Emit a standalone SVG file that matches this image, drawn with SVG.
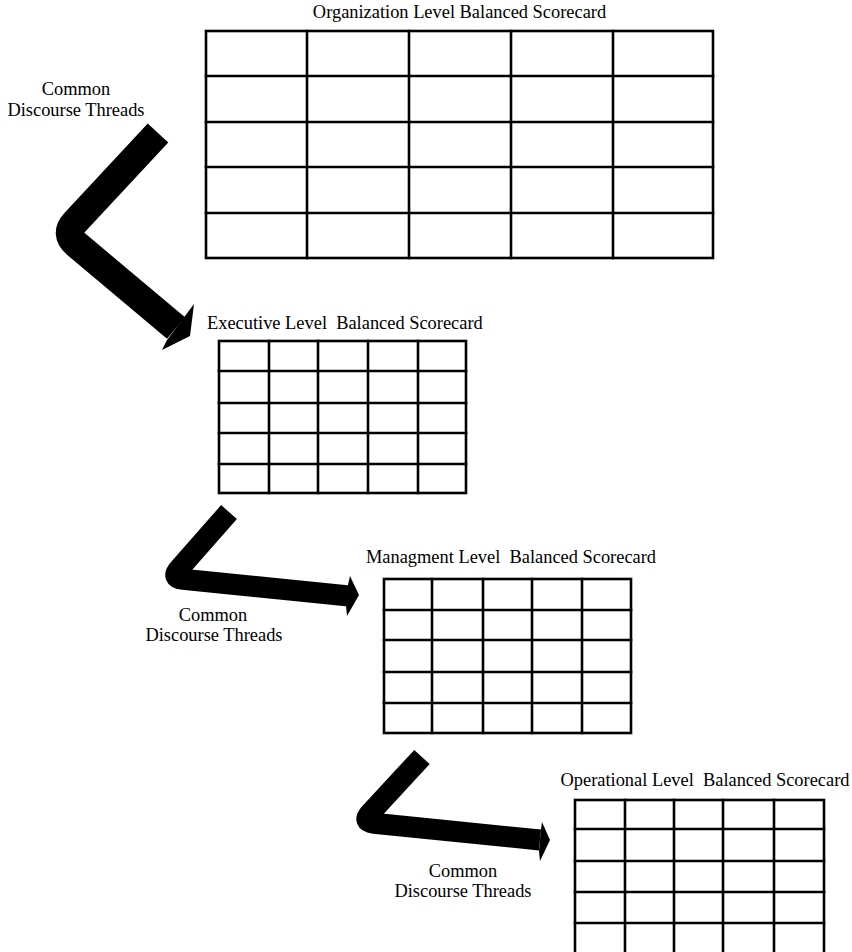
<svg xmlns="http://www.w3.org/2000/svg" width="852" height="952" viewBox="0 0 852 952">
<style>
.grid{fill:none;stroke:#000;stroke-width:2.6;stroke-linecap:square}
.lbl{font-family:"Liberation Serif","Times New Roman",serif;font-size:18.4px;fill:#000}
.shaft{fill:none;stroke:#000;stroke-linejoin:round;stroke-linecap:butt}
.head{fill:#000;stroke:none}
</style>
<rect width="852" height="952" fill="#fff"/>
<g id="org-scorecard">
<text class="lbl" x="459.5" y="18" text-anchor="middle">Organization Level Balanced Scorecard</text>
<rect class="grid" x="206" y="31" width="507" height="227"/>
<path class="grid" d="M307,31V258M409,31V258M511,31V258M613,31V258M206,76H713M206,122H713M206,167H713M206,213H713"/>
</g>
<g id="exec-scorecard">
<text class="lbl" x="207" y="329" xml:space="preserve">Executive Level  Balanced Scorecard</text>
<rect class="grid" x="219" y="341" width="247" height="152"/>
<path class="grid" d="M269,341V493M318,341V493M368,341V493M418,341V493M219,371H466M219,403H466M219,433H466M219,464H466"/>
</g>
<g id="mgmt-scorecard">
<text class="lbl" x="366" y="563" xml:space="preserve">Managment Level  Balanced Scorecard</text>
<rect class="grid" x="384" y="579" width="247" height="154"/>
<path class="grid" d="M432,579V733M483,579V733M532,579V733M582,579V733M384,610H631M384,640H631M384,672H631M384,703H631"/>
</g>
<g id="oper-scorecard">
<text class="lbl" x="705" y="786" text-anchor="middle" xml:space="preserve">Operational Level  Balanced Scorecard</text>
<rect class="grid" x="575" y="800" width="249" height="154"/>
<path class="grid" d="M625,800V954M674,800V954M723,800V954M774,800V954M575,829H824M575,861H824M575,892H824M575,923H824"/>
</g>
<g id="connectors">
<g id="thread-1">
<path class="shaft" stroke-width="28" d="M158,133L74.9,222.3Q64,234 76.3,244.3L176,328"/>
<polygon class="head" points="185,316 194,304 190,336 162,350 167,340"/>
<text class="lbl" x="76" y="95" text-anchor="middle">Common</text>
<text class="lbl" x="76" y="116" text-anchor="middle">Discourse Threads</text>
</g>
<g id="thread-2">
<path class="shaft" stroke-width="21" d="M229,512L178.9,569Q171,578 182.9,579.2L349,596"/>
<polygon class="head" points="348,585 350,576 359,595 347,616 346,606"/>
<text class="lbl" x="213" y="621" text-anchor="middle">Common</text>
<text class="lbl" x="214" y="641" text-anchor="middle">Discourse Threads</text>
</g>
<g id="thread-3">
<path class="shaft" stroke-width="21" d="M422,757L370.1,813.2Q362,822 373.9,823.2L540,840"/>
<polygon class="head" points="541,829 542,822 550,840 540,861 539,851"/>
<text class="lbl" x="463" y="877" text-anchor="middle">Common</text>
<text class="lbl" x="463" y="897" text-anchor="middle">Discourse Threads</text>
</g>
</g>
</svg>
